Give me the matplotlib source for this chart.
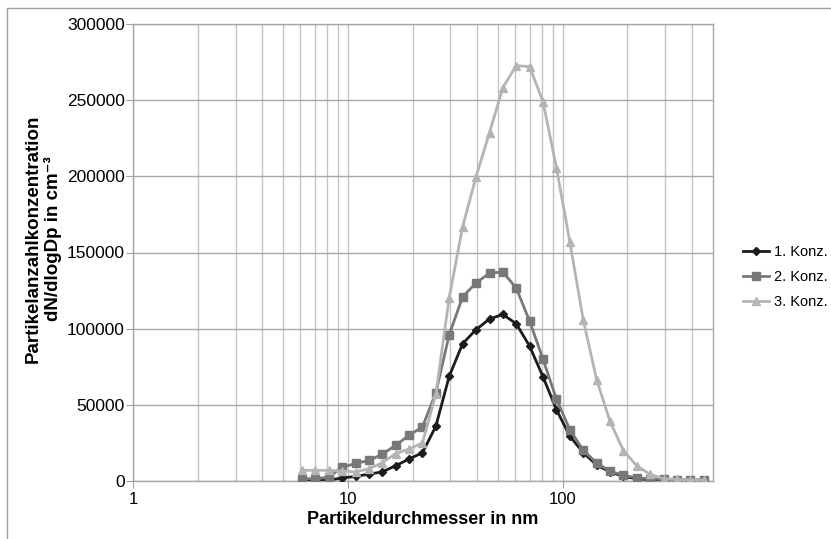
import matplotlib
matplotlib.use('Agg')

import matplotlib.pyplot as plt
from matplotlib.ticker import FixedLocator, NullFormatter, FuncFormatter
from matplotlib.lines import Line2D

plt.rcParams['font.family'] = ['Liberation Sans', 'DejaVu Sans']

# Particle diameter (nm)
diameter = [6.11, 7.05, 8.14, 9.40, 10.85, 12.52, 14.45, 16.69, 19.26, 22.23,
            25.66, 29.62, 34.2, 39.5, 45.6, 52.6, 60.7, 70.1, 80.9, 93.4,
            107.8, 124.4, 143.6, 165.8, 191.4, 220.9, 255.0, 294.3, 339.8, 392.2,
            452.7]

# dN/dlogDp for the three concentrations
konz_1 = [0, 200, 500, 2000, 3000, 4500, 6000, 10000, 14500, 18500,
          36000, 68800, 90200, 99400, 106400, 109300, 103300, 88500, 68400, 46900,
          29400, 18700, 10500, 6000, 3000, 1500, 800, 400, 200, 100,
          50]
konz_2 = [1500, 1500, 2500, 9000, 11500, 13500, 17500, 23500, 30000, 35500,
          57900, 96100, 121000, 130000, 136500, 137200, 126700, 104900, 80000, 53800,
          33800, 20200, 11900, 6400, 3800, 2100, 1400, 1000, 900, 800,
          800]
konz_3 = [7000, 7000, 7000, 6500, 6000, 8000, 12000, 18000, 21000, 25000,
          57000, 120400, 167000, 199800, 228700, 258200, 272700, 272000, 249000, 205700,
          157100, 106000, 66600, 39200, 20000, 10000, 4300, 1500, 1000, 800,
          700]

labels = ['1. Konz.', '2. Konz.', '3. Konz.']
colors = ['#1c1c1c', '#787878', '#b4b4b4']
markers = ['D', 's', '^']
msizes = [4.5, 5.5, 6]

fig = plt.figure(figsize=(8.31, 5.39), dpi=100)
ax = fig.add_axes([133 / 831, 1 - 481 / 539, 580 / 831, 457 / 539])

# Chart area frame (Excel style)
fig.add_artist(plt.Rectangle((7 / 831, -0.1), 1.0, 1 - 8 / 539 + 0.1,
                             transform=fig.transFigure, fill=False,
                             edgecolor='#a0a0a0', linewidth=1))

# Plot the three series
for ys, lab, c, m, ms in zip([konz_1, konz_2, konz_3], labels, colors, markers, msizes):
    ax.plot(diameter, ys, color=c, marker=m, markersize=ms, linewidth=2,
            markeredgecolor=c, markerfacecolor=c, label=lab, zorder=3)

# Log x-axis with major and minor gridlines
ax.set_xscale('log')
ax.set_xlim(1, 500)
ax.set_ylim(0, 300000)
ax.xaxis.set_major_locator(FixedLocator([1, 10, 100]))
ax.xaxis.set_major_formatter(FuncFormatter(lambda v, p: f"{v:g}"))
minor = [k * 10 ** e for e in range(0, 3) for k in range(2, 10) if k * 10 ** e < 500]
ax.xaxis.set_minor_locator(FixedLocator(minor))
ax.xaxis.set_minor_formatter(NullFormatter())
ax.set_yticks(range(0, 300001, 50000))

ax.grid(True, which='major', axis='y', color='#a6a6a6', linewidth=1)
ax.grid(True, which='both', axis='x', color='#c4c4c4', linewidth=1)
ax.set_axisbelow(True)

ax.tick_params(axis='x', which='major', direction='out', length=5, color='#a0a0a0',
               labelsize=12, pad=3)
ax.tick_params(axis='x', which='minor', length=0)
ax.tick_params(axis='y', direction='out', length=5, color='#a0a0a0', labelsize=12.5, pad=1)

for side in ['left', 'bottom', 'top', 'right']:
    ax.spines[side].set_color('#a6a6a6')
    ax.spines[side].set_linewidth(1)

ax.set_xlabel('Partikeldurchmesser in nm', fontsize=13, fontweight='bold', labelpad=3)
ax.set_ylabel('Partikelanzahlkonzentration\ndN/dlogDp in cm\u207b\u00b3', fontsize=13.5,
              fontweight='bold')
# Excel puts the axis title a bit above the plot centre
ax.yaxis.set_label_coords(-0.122, 0.53)

handles = [Line2D([0], [0], color=c, marker=m, markersize=ms, linewidth=2)
           for c, m, ms in zip(colors, markers, msizes)]
fig.legend(handles, labels, loc='center left', bbox_to_anchor=(730 / 831, 1 - 277 / 539),
           frameon=False, fontsize=10.5, handlelength=1.8, handletextpad=0.3,
           labelspacing=0.75)

plt.savefig('out.png', dpi=100)
